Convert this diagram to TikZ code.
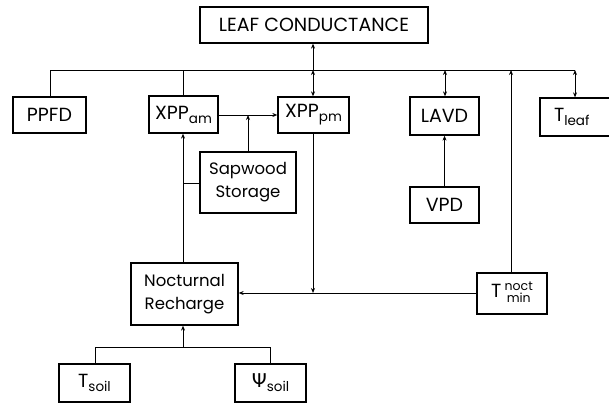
\documentclass[tikz,border=0pt]{standalone}
\usepackage{fontspec}
\setmainfont{Poppins}
\newfontfamily\psifont{DejaVu Sans}
\usetikzlibrary{arrows.meta}
\tikzset{
  box/.style={draw, line width=1.3pt, rectangle, inner sep=0pt, align=center, font=\fontsize{19}{22}\selectfont},
  lbox/.style={box, font=\fontsize{16.5}{23}\selectfont},
  conn/.style={line width=1pt},
  arr/.style={-{Stealth[length=5pt,width=4pt]}},
  darr/.style={{Stealth[length=5pt,width=4pt]}-{Stealth[length=5pt,width=4pt]}},
}
\newcommand{\sbs}[1]{\raisebox{-4pt}{\fontsize{13.5}{14}\selectfont #1}}
\begin{document}
\begin{tikzpicture}[x=1pt,y=-1pt]
\useasboundingbox (0,0) rectangle (609,404);
\node[box, minimum width=228pt, minimum height=36pt] (leaf) at (314,25) {LEAF CONDUCTANCE};
\node[box, minimum width=73pt, minimum height=36pt] (ppfd) at (49.5,115) {PPFD};
\node[box, minimum width=69pt, minimum height=37pt] (xam) at (183.5,114.5) {XPP\sbs{am}};
\node[box, minimum width=71pt, minimum height=36pt] (xpm) at (313.5,115) {XPP\sbs{pm}};
\node[lbox, minimum width=96pt, minimum height=61pt] (sap) at (248,182.5) {Sapwood\\Storage};
\node[box, minimum width=69pt, minimum height=38pt] (lavd) at (444.5,116) {LAVD};
\node[box, minimum width=69pt, minimum height=36pt] (vpd) at (444.5,205) {VPD};
\node[box, minimum width=76pt, minimum height=38pt, text width=70pt, align=left] (tleaf) at (578,117) {\hspace{11pt}T\sbs{leaf}};
\node[lbox, minimum width=107pt, minimum height=62pt] (noct) at (184.5,294) {Nocturnal\\Recharge};
\node[box, minimum width=70pt, minimum height=41pt] (tmin) at (512,293.5) {T\,$\vcenter{\hbox{\fontsize{12.5}{14}\selectfont\begin{tabular}{@{}c@{}}noct\\[-2pt]min\end{tabular}}}$};
\node[box, minimum width=71pt, minimum height=38pt] (tsoil) at (94.5,383) {T\sbs{soil}};
\node[box, minimum width=71pt, minimum height=38pt] (psoil) at (270.5,383) {{\psifont Ψ}\sbs{soil}};

\coordinate (busL) at (50,70);
\coordinate (busR) at (575,70);
\coordinate (bus313) at (313,70);
\coordinate (bus445) at (445,70);
\coordinate (bus511) at (511,70);
\coordinate (j115) at (248,115);
\coordinate (j183) at (183,183);
\coordinate (j293) at (313,293);
\coordinate (sL) at (95,347);
\coordinate (sM) at (183,347);
\coordinate (sR) at (270,347);

\draw[conn] (busL) -- (busR);
\draw[conn] (busL) -- (busL |- ppfd.north);
\draw[conn] (183,70) -- (183,0 |- xam.north);
\draw[conn,arr] (bus313) -- (313,0 |- leaf.south);
\draw[conn,darr] (bus313) -- (313,0 |- xpm.north);
\draw[conn,darr] (bus445) -- (445,0 |- lavd.north);
\draw[conn,darr] (busR) -- (575,0 |- tleaf.north);
\draw[conn,arr] (511,0 |- tmin.north) -- (bus511);
\draw[conn,arr] (xam.east |- 0,115) -- (xpm.west |- 0,115);
\draw[conn,arr] (sap.north) -- (j115);
\draw[conn,arr] (183,0 |- noct.north) -- (183,0 |- xam.south);
\draw[conn] (sap.west |- j183) -- (j183);
\draw[conn,arr] (313,0 |- xpm.south) -- (j293);
\draw[conn,arr] (tmin.west |- 0,293) -- (noct.east |- 0,293);
\draw[conn,arr] (vpd.north) -- (lavd.south);
\draw[conn] (sL |- tsoil.north) -- (sL) -- (sR) -- (sR |- psoil.north);
\draw[conn,arr] (sM) -- (183,0 |- noct.south);
\end{tikzpicture}
\end{document}
